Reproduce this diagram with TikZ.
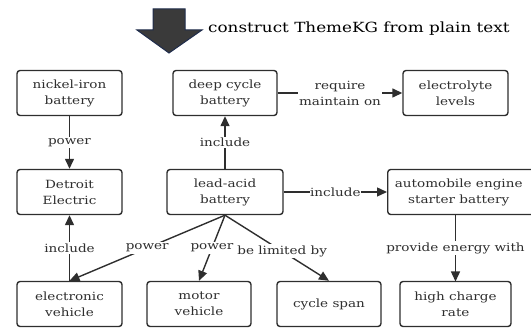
\documentclass[tikz,border=0pt]{standalone}
\usepackage{fontspec}
\setmainfont[FakeStretch=1.2]{DejaVu Serif}
\usetikzlibrary{arrows.meta}
\definecolor{ink}{HTML}{2E2E2E}
\definecolor{arrfill}{HTML}{3A3A3A}
\definecolor{arredge}{HTML}{1F2C4C}
\tikzset{
  box/.style={draw=ink, line width=1.4pt, rounded corners=3pt, align=center,
    minimum height=45pt, inner sep=0pt, font=\fontsize{11.3}{16}\selectfont, text=ink},
  conn/.style={draw=ink, line width=1.4pt},
  arr/.style={conn, -{Triangle[length=10pt,width=9pt]}},
  lbl/.style={fill=white, inner sep=1.5pt, font=\fontsize{11.3}{16}\selectfont, text=ink, align=center}
}
\begin{document}
\begin{tikzpicture}[x=1pt,y=-1pt]
\useasboundingbox (0,0) rectangle (531,328);
% big arrow
\draw[fill=arrfill, draw=arredge, line width=1pt]
  (153,9) -- (185,9) -- (185,30) -- (202,30) -- (169,53) -- (137,30) -- (153,30) -- cycle;
\node[anchor=west, font=\fontsize{14}{16}\selectfont, inner sep=0pt, text=black] (title) at (208,29) {construct ThemeKG from plain text};
% row 1
\node[box, minimum width=105pt] (ni) at (69.5,93) {nickel-iron\\battery};
\node[box, minimum width=104pt] (dc) at (225,93) {deep cycle\\battery};
\node[box, minimum width=105pt] (el) at (455.5,93) {electrolyte\\levels};
% row 2
\node[box, minimum width=105pt] (de) at (69.5,192) {Detroit\\Electric};
\node[box, minimum width=116pt] (la) at (225,192) {lead-acid\\battery};
\node[box, minimum width=160pt, anchor=west] (au) at (387,192) {\hspace*{-18pt}automobile engine\\\hspace*{-18pt}starter battery};
% row 3
\node[box, minimum width=105pt] (ev) at (69.5,304) {electronic\\vehicle};
\node[box, minimum width=104pt] (mv) at (199,304) {motor\\vehicle};
\node[box, minimum width=104pt] (cs) at (329,304) {cycle span};
\node[box, minimum width=111pt] (hc) at (455.5,304) {high charge\\rate};
% connectors
\draw[arr] (dc.east) -- node[lbl] {require\\maintain on} (el.west);
\draw[arr] (ni.south) -- node[lbl] {power} (de.north);
\draw[arr] (la.north) -- node[lbl] {include} (dc.south);
\draw[arr] (la.east) -- node[lbl, inner sep=0.5pt] {include} (au.west);
\coordinate (auS) at (455.5,214.5);
\coordinate (hcN) at (455.5,281.5);
\draw[arr] (auS) -- node[lbl] {provide energy with} (hcN);
\draw[arr] (ev.north) -- node[lbl] {include} (de.south);
\draw[arr] (la.south) -- node[lbl] {power} (ev.north);
\draw[arr] (la.south) -- node[lbl] {power} (mv.north);
\draw[arr] (la.south) -- node[lbl, pos=0.55] {be limited by} (cs.north);
\end{tikzpicture}
\end{document}
